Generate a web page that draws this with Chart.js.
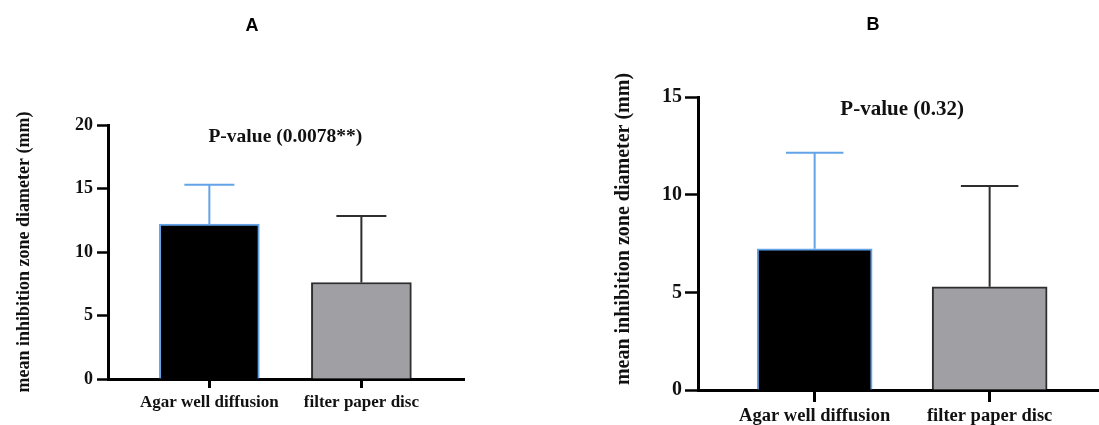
<!DOCTYPE html>
<html>
<head>
<meta charset="utf-8">
<script src="https://cdn.jsdelivr.net/npm/chart.js@4.4.1/dist/chart.umd.min.js"></script>
<style>
  html, body { margin: 0; padding: 0; background: #ffffff; }
  body { width: 1099px; height: 425px; position: relative; overflow: hidden; }
  canvas { position: absolute; top: 0; }
  #chartA { left: 0; }
  #chartB { left: 549px; }
</style>
</head>
<body>
<canvas id="chartA" width="549" height="425"></canvas>
<canvas id="chartB" width="550" height="425"></canvas>
<script>
// ---------- data ----------
const categories = ['Agar well diffusion', 'filter paper disc'];

const meansA = [12.2, 7.6];
const sdA    = [3.1, 5.23];
const ticksA = [0, 5, 10, 15, 20];
const pValueA = 'P-value (0.0078**)';
const panelLabelA = 'A';

const meansB = [7.23, 5.28];
const sdB    = [4.91, 5.17];
const ticksB = [0, 5, 10, 15];
const pValueB = 'P-value (0.32)';
const panelLabelB = 'B';

const yTitle = 'mean inhibition zone diameter (mm)';

// ---------- styles ----------
const SERIF = "'Liberation Serif', 'Times New Roman', serif";
const SANS = "'Liberation Sans', Arial, sans-serif";
const barFill   = ['#000000', '#a09fa4'];
const barBorder = ['#63a4e9', '#2e2e2e'];
const errColor  = ['#63a4e9', '#2e2e2e'];

// error bars (upper only), drawn through the y scale
function makeErrorBars(sds) {
  return {
    id: 'errorBars',
    afterDatasetsDraw(chart) {
      const ctx = chart.ctx;
      const yScale = chart.scales.y;
      const meta = chart.getDatasetMeta(0);
      const ds = chart.data.datasets[0];
      meta.data.forEach((bar, i) => {
        const topVal = ds.data[i].y + sds[i];
        const yTop = yScale.getPixelForValue(topVal);
        const half = bar.width / 4;
        ctx.save();
        ctx.strokeStyle = errColor[i];
        ctx.lineWidth = 2;
        ctx.beginPath();
        ctx.moveTo(bar.x, bar.y);
        ctx.lineTo(bar.x, yTop);
        ctx.moveTo(bar.x - half, yTop);
        ctx.lineTo(bar.x + half, yTop);
        ctx.stroke();
        ctx.restore();
      });
    }
  };
}

// panel letter, p-value text and (optionally) a shifted y-axis title
function makeDecor(cfg) {
  return {
    id: 'decor',
    afterDraw(chart) {
      const ctx = chart.ctx;
      ctx.save();
      ctx.fillStyle = '#000';
      ctx.textAlign = 'center';
      ctx.textBaseline = 'middle';
      ctx.font = 'bold ' + cfg.letterSize + 'px ' + SANS;
      ctx.fillText(cfg.letter, cfg.letterX, cfg.letterY);
      ctx.fillStyle = '#111';
      ctx.font = 'bold ' + cfg.pSize + 'px ' + SERIF;
      const px = chart.scales.x.getPixelForValue(1.5);
      ctx.fillText(cfg.pText, px, chart.chartArea.top + cfg.pOffset);
      if (cfg.yTitle) {
        ctx.font = 'bold ' + cfg.yTitle.size + 'px ' + SERIF;
        ctx.translate(cfg.yTitle.x, cfg.yTitle.y);
        ctx.rotate(-Math.PI / 2);
        ctx.fillText(yTitle, 0, 0);
      }
      ctx.restore();
    }
  };
}

function buildChart(id, o) {
  return new Chart(document.getElementById(id), {
    type: 'bar',
    data: {
      datasets: [{
        data: categories.map((c, i) => ({ x: i + 1, y: o.means[i] })),
        backgroundColor: barFill,
        borderColor: barBorder,
        borderWidth: 2,
        barThickness: o.barThickness
      }]
    },
    options: {
      responsive: false,
      animation: false,
      layout: { padding: { top: o.padTop, right: o.padRight, bottom: 0, left: 0 } },
      plugins: { legend: { display: false }, tooltip: { enabled: false }, title: { display: false } },
      scales: {
        x: {
          type: 'linear',
          offset: false,
          min: 1 / 3,
          max: o.xMax,
          afterBuildTicks: s => { s.ticks = categories.map((c, i) => ({ value: i + 1 })); },
          afterFit: s => { s.height = o.xHeight; },
          ticks: {
            callback: v => categories[v - 1] ?? '',
            autoSkip: false, maxRotation: 0, minRotation: 0,
            padding: o.xPad,
            color: '#111',
            font: { family: SERIF, size: o.xFont, weight: 'bold' }
          },
          grid: { display: true, offset: false, drawOnChartArea: false, drawTicks: true, tickLength: o.xTick, tickWidth: 3, tickColor: '#000', color: '#000' },
          border: { display: true, width: 3, color: '#000' }
        },
        y: {
          min: 0,
          max: o.ticks[o.ticks.length - 1],
          afterBuildTicks: s => { s.ticks = o.ticks.map(v => ({ value: v })); },
          afterFit: s => { s.width = o.yWidth; },
          ticks: {
            padding: o.yPad,
            color: '#111',
            font: { family: SERIF, size: o.yFont, weight: 'bold' }
          },
          grid: { display: true, drawOnChartArea: false, drawTicks: true, tickLength: o.yTick, tickWidth: 2.5, tickColor: '#000', color: '#000' },
          border: { display: true, width: 3, color: '#000' },
          title: {
            display: o.builtInTitle,
            text: yTitle,
            color: '#111',
            font: { family: SERIF, size: o.titleFont, weight: 'bold' },
            padding: { top: o.titlePad, bottom: 0 }
          }
        }
      }
    },
    plugins: [makeErrorBars(o.sds), makeDecor(o.decor)]
  });
}

buildChart('chartA', {
  means: meansA, sds: sdA, ticks: ticksA,
  barThickness: 100, padTop: 125, padRight: 85, xMax: 2.675,
  xHeight: 46, xPad: 4, xFont: 17, xTick: 9,
  yWidth: 108, yPad: 4, yFont: 18, yTick: 11,
  builtInTitle: true, titleFont: 18, titlePad: 14,
  decor: { letter: panelLabelA, letterX: 252, letterY: 26, letterSize: 18, pText: pValueA, pSize: 19.5, pOffset: 12 }
});

buildChart('chartB', {
  means: meansB, sds: sdB, ticks: ticksB,
  barThickness: 115, padTop: 97, padRight: 0, xMax: 2.625,
  xHeight: 35, xPad: 3, xFont: 18.5, xTick: 12,
  yWidth: 149, yPad: 3, yFont: 20, yTick: 13,
  builtInTitle: false, titleFont: 20, titlePad: 63,
  decor: { letter: panelLabelB, letterX: 324, letterY: 25, letterSize: 18, pText: pValueB, pSize: 21, pOffset: 13,
           yTitle: { x: 75, y: 229, size: 20 } }
});
</script>
</body>
</html>
